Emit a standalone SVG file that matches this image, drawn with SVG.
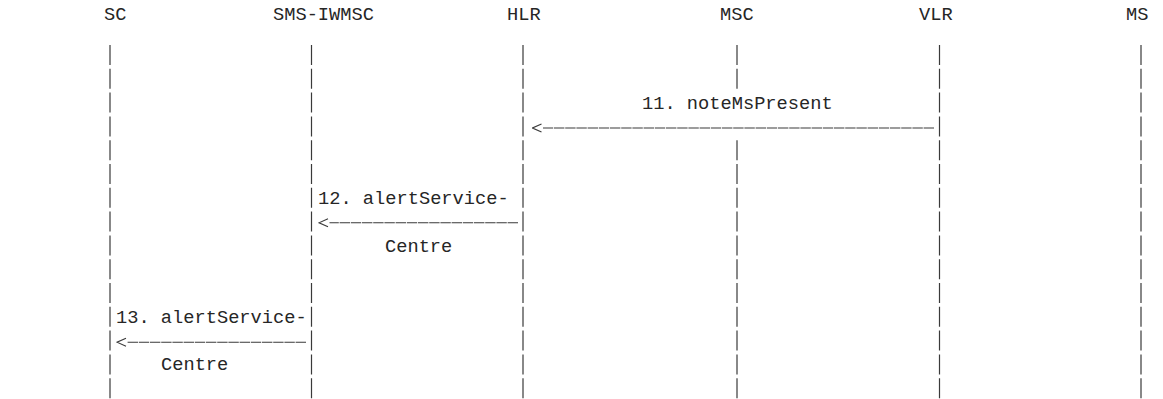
<svg xmlns="http://www.w3.org/2000/svg" width="1163" height="399" viewBox="0 0 1163 399">
  <defs>
    <style>
      .t { font-family: "Liberation Mono", "Courier New", monospace; font-size: 18.7px; fill: #262626; }
      .life { stroke: #3a3a3a; stroke-width: 1.2; fill: none; stroke-dasharray: 20 3.8; }
      .msg { stroke: #3a3a3a; stroke-width: 1.1; fill: none; stroke-dasharray: 10.4 0.8; }
      .head { stroke: #3a3a3a; stroke-width: 1.1; fill: none; }
    </style>
    <marker id="chev" viewBox="-2 -1 12 10" refX="-1.5" refY="4" markerWidth="12" markerHeight="10" markerUnits="userSpaceOnUse" orient="auto">
      <path class="head" d="M0,0 L9,4 L0,8"/>
    </marker>
  </defs>
  <rect width="1163" height="399" fill="#ffffff"/>

  <g id="sc">
    <text class="t" x="104" y="19.5">SC</text>
    <line class="life" x1="110" y1="45" x2="110" y2="399"/>
  </g>
  <g id="sms-iwmsc">
    <text class="t" x="273" y="19.5">SMS-IWMSC</text>
    <line class="life" x1="311.5" y1="45" x2="311.5" y2="399"/>
  </g>
  <g id="hlr">
    <text class="t" x="507" y="19.5">HLR</text>
    <line class="life" x1="523" y1="45" x2="523" y2="399"/>
  </g>
  <g id="msc">
    <text class="t" x="720" y="19.5">MSC</text>
    <line class="life" x1="737" y1="45" x2="737" y2="88.8"/>
    <line class="life" x1="737" y1="140.2" x2="737" y2="399"/>
  </g>
  <g id="vlr">
    <text class="t" x="919" y="19.5">VLR</text>
    <line class="life" x1="939.5" y1="45" x2="939.5" y2="399"/>
  </g>
  <g id="ms">
    <text class="t" x="1126" y="19.5">MS</text>
    <line class="life" x1="1141" y1="45" x2="1141" y2="399"/>
  </g>

  <g id="connectors">
    <g id="msg11">
      <text class="t" x="642" y="108.6">11. noteMsPresent</text>
      <path class="msg" d="M934,128 H543" marker-end="url(#chev)"/>
    </g>
    <g id="msg12">
      <text class="t" x="318" y="204.3">12. alertService-</text>
      <path class="msg" d="M518,222.8 H329.5" marker-end="url(#chev)"/>
      <text class="t" x="385" y="251.8">Centre</text>
    </g>
    <g id="msg13">
      <text class="t" x="116" y="323.2">13. alertService-</text>
      <path class="msg" d="M306,342.2 H127.5" marker-end="url(#chev)"/>
      <text class="t" x="161" y="370.2">Centre</text>
    </g>
  </g>
</svg>
